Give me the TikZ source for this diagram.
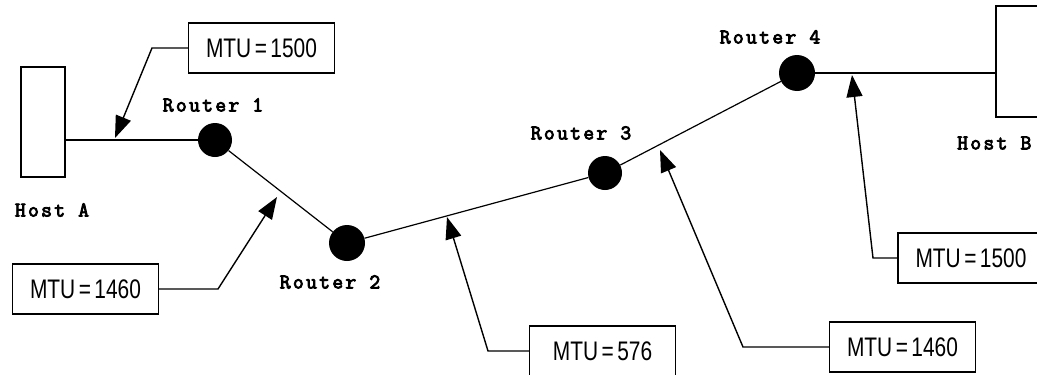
\documentclass[tikz,border=0pt]{standalone}
\usepackage{fontspec}
\usepackage{graphicx}
\setsansfont{Liberation Sans}
\newfontfamily\routerfont[FakeBold=4,LetterSpace=11]{Latin Modern Mono}
\newcommand\mtutext[1]{\scalebox{0.95}[1.22]{MTU\,=\,#1}}
\usetikzlibrary{arrows.meta}

\begin{document}
\begin{tikzpicture}[x=1pt,y=-1pt,
	router/.style={circle,fill=black,minimum size=34pt,inner sep=0pt},
	host/.style={draw,line width=1.2pt,minimum width=44pt,minimum height=110pt,inner sep=0pt},
	rlabel/.style={font=\fontsize{21}{21}\selectfont\routerfont,inner sep=0pt},
	mtu/.style={draw,line width=1.4pt,minimum width=146pt,minimum height=50pt,inner sep=0pt,
		font=\fontsize{22}{22}\selectfont\sffamily},
	link/.style={line width=1.2pt},
	callout/.style={line width=1.4pt,-{Triangle[length=22pt,width=16pt]}}]

		\useasboundingbox (0,0) rectangle (1037,375);
		\clip (0,0) rectangle (1037,375);

		% hosts
		\node (hostA) at (43,122) [host] {};
		\node at (52,210) [rlabel] {Host A};
		\node (hostB) at (1026,61.5) [host,minimum width=60pt,minimum height=111pt] {};
		\node at (957,143) [rlabel,anchor=west] {Host B};

		% routers
		\node (r1) at (215,140) [router] {};
		\node at (213,105) [rlabel] {Router 1};
		\node (r2) at (347,243) [router,minimum size=36pt] {};
		\node at (330,282) [rlabel] {Router 2};
		\node (r3) at (605,173) [router] {};
		\node at (581,133) [rlabel] {Router 3};
		\node (r4) at (797,73) [router,minimum size=36pt] {};
		\node at (770,37) [rlabel] {Router 4};

		\draw [link] (r1) -- (r1 -| hostA.east);
		\draw [link] (r1) -- (r2);
		\draw [link] (r2) -- (r3);
		\draw [link] (r3) -- (r4);
		\draw [link] (r4) -- (r4 -| hostB.west);

		% MTU boxes
		\node (m1) at (261.5,48) [mtu] {\mtutext{1500}};
		\node (m2) at (85.5,289) [mtu] {\mtutext{1460}};
		\node (m3) at (602.5,351) [mtu] {\mtutext{576}};
		\node (m4) at (902.5,347) [mtu] {\mtutext{1460}};
		\node (m5) at (971,258) [mtu] {\mtutext{1500}};

		\coordinate (t1) at (115,138);
		\coordinate (t2) at (277,197);
		\coordinate (t3) at (447,217);
		\coordinate (t4) at (660,150);
		\coordinate (t5) at (852,75);

		\draw [callout] (m1.west) -- (152,48) -- (t1);
		\draw [callout] (m2.east) -- (218,289) -- (t2);
		\draw [callout] (m3.west) -- (488,351) -- (t3);
		\draw [callout] (m4.west) -- (743,347) -- (t4);
		\draw [callout] (m5.west) -- (873,258) -- (t5);

\end{tikzpicture}
\end{document}
